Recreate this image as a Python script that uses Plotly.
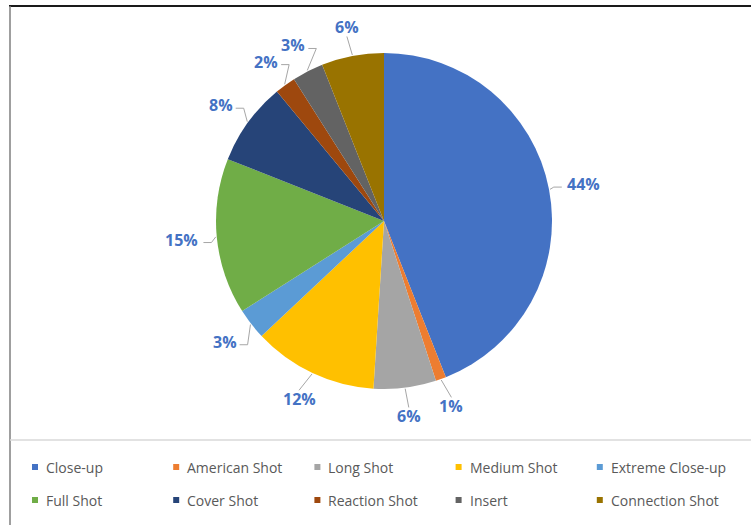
import math
import plotly.graph_objects as go

# Share of shot types (percent)
shots = ["Close-up", "American Shot", "Long Shot", "Medium Shot", "Extreme Close-up",
         "Full Shot", "Cover Shot", "Reaction Shot", "Insert", "Connection Shot"]
shares = [44, 1, 6, 12, 3, 15, 8, 2, 3, 6]
colors = ["#4472C4", "#ED7D31", "#A5A5A5", "#FFC000", "#5B9BD5",
          "#70AD47", "#264478", "#9E480E", "#636363", "#997300"]

W, H = 751, 525
CX, CY, R = 384, 221, 168      # pie centre / radius in pixels (top-left origin)
LABEL_R = 197                  # radius of the percentage labels
FONT = "Open Sans"


def px(x):
    return x / W


def py(y):
    return 1 - y / H


fig = go.Figure(go.Pie(
    labels=shots, values=shares, sort=False, direction="clockwise", rotation=0,
    marker=dict(colors=colors, line=dict(width=0)),
    textinfo="none", hoverinfo="label+percent", showlegend=False,
    domain=dict(x=[px(CX - R), px(CX + R)], y=[py(CY + R), py(CY - R)]),
))

annotations = []
shapes = []

# percentage labels with elbow leader lines
total = sum(shares)
cum = 0
for v in shares:
    mid = (cum + v / 2) / total
    cum += v
    th = 2 * math.pi * mid
    s, c = math.sin(th), -math.cos(th)
    ex, ey = CX + (R + 1) * s, CY + (R + 1) * c
    lx, ly = CX + (LABEL_R + 6 * abs(s)) * s, CY + LABEL_R * c
    text = f"{v}%"
    halfw = 6.5 * len(text)
    if abs(s) < 0.45:
        sx, sy = lx, ly - math.copysign(9, c)
        path = f"M{px(ex)},{py(ey)} L{px(sx)},{py(sy)}"
    else:
        side = -math.copysign(1, s)
        sx, sy = lx + side * (halfw + 2), ly + 3
        tx, ty = sx + side * 8, sy
        path = f"M{px(ex)},{py(ey)} L{px(tx)},{py(ty)} L{px(sx)},{py(sy)}"
    shapes.append(dict(type="path", xref="paper", yref="paper", path=path,
                       line=dict(color="#A6A6A6", width=1)))
    annotations.append(dict(x=px(lx), y=py(ly), xref="paper", yref="paper",
                            text=text, showarrow=False,
                            font=dict(family=FONT, size=16, color="#4472C4", weight="bold"),
                            xanchor="center", yanchor="middle"))

# legend: two rows of five entries
for i, (name, col) in enumerate(zip(shots, colors)):
    cx = 35 + 141.2 * (i % 5)
    cy = 467 + 33 * (i // 5)
    shapes.append(dict(type="rect", xref="paper", yref="paper",
                       x0=px(cx - 3), x1=px(cx + 3), y0=py(cy + 3), y1=py(cy - 3),
                       fillcolor=col, line=dict(width=0)))
    annotations.append(dict(x=px(cx + 9), y=py(cy), xref="paper", yref="paper",
                            text=name, showarrow=False, xanchor="left", yanchor="middle",
                            font=dict(family=FONT, size=14, color="#595959")))

# frame lines and legend separator
shapes += [
    dict(type="line", xref="paper", yref="paper", x0=px(9), x1=1, y0=py(6), y1=py(6),
         line=dict(color="#1A1A1A", width=2)),
    dict(type="line", xref="paper", yref="paper", x0=px(10), x1=px(10), y0=py(6), y1=0,
         line=dict(color="#7F7F7F", width=1.5)),
    dict(type="line", xref="paper", yref="paper", x0=px(10), x1=1, y0=py(440), y1=py(440),
         line=dict(color="#D9D9D9", width=1.5)),
]

fig.update_layout(
    width=W, height=H, margin=dict(l=0, r=0, t=0, b=0),
    paper_bgcolor="white", plot_bgcolor="white",
    showlegend=False, shapes=shapes, annotations=annotations,
    font=dict(family=FONT),
)

fig.write_html("out.html")
